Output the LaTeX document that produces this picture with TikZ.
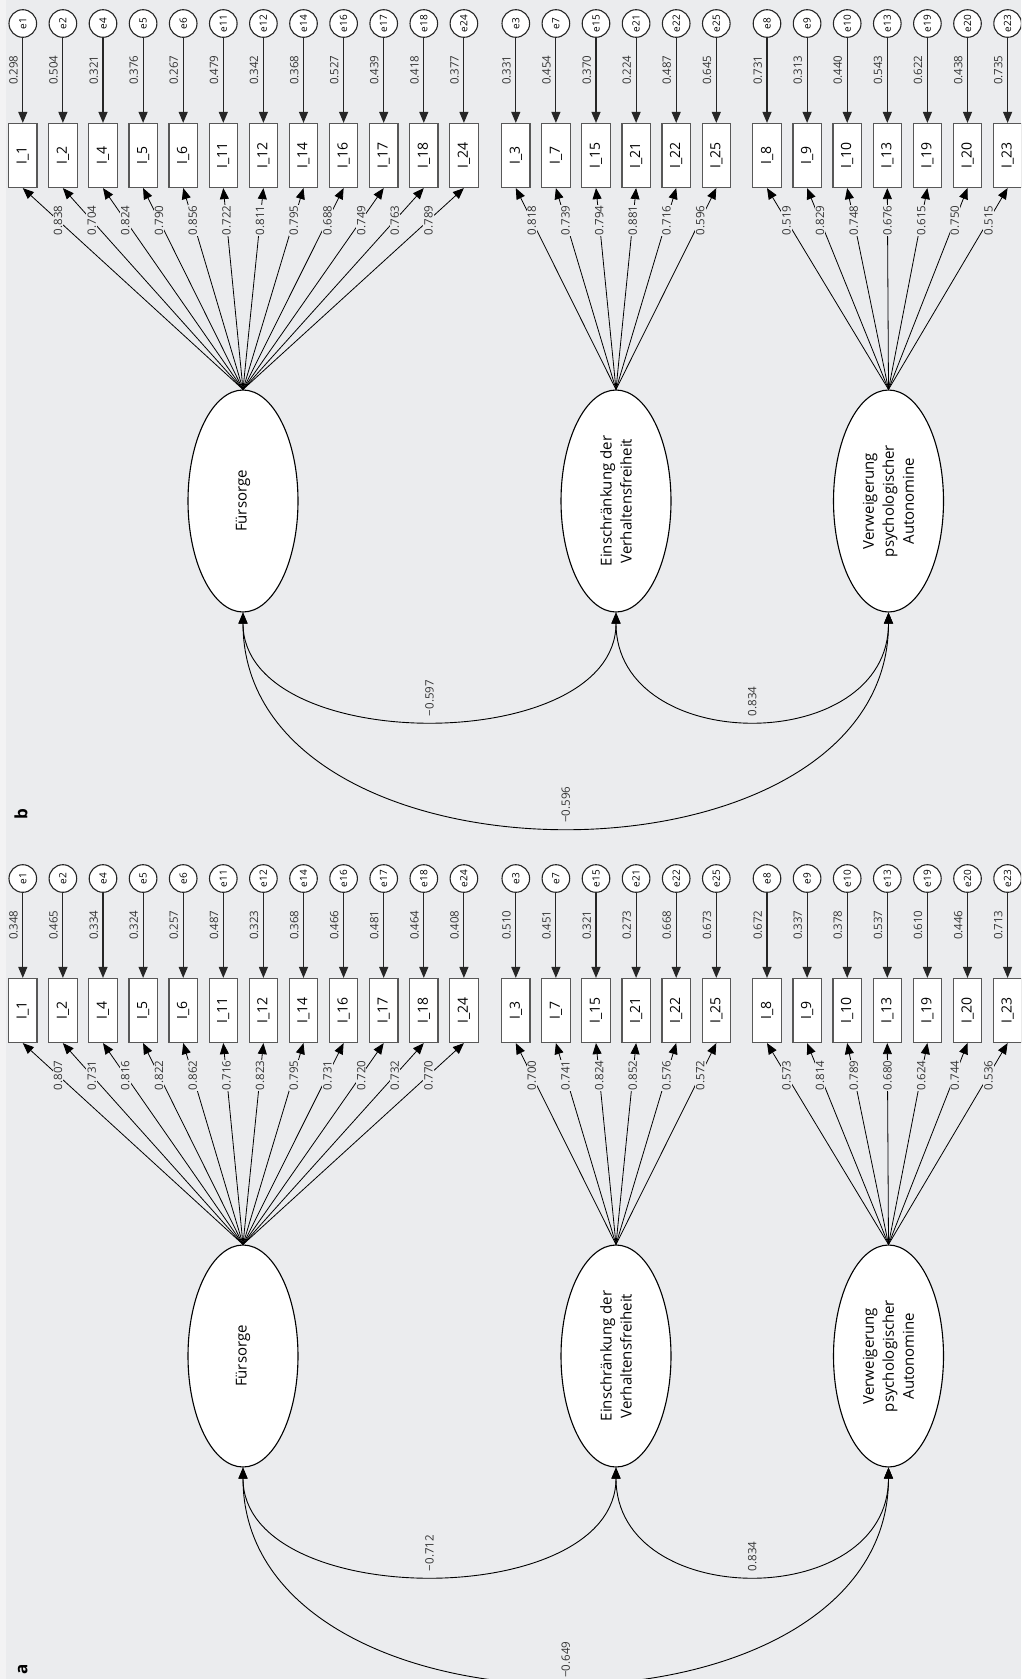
\documentclass[tikz,border=0pt]{standalone}
\usepackage{fontspec}
\setmainfont{Open Sans}
\usetikzlibrary{arrows.meta,shapes.geometric}
\definecolor{bgcol}{HTML}{EBECEE}
\definecolor{stripcol}{HTML}{F3F3F4}
\definecolor{boxline}{HTML}{585858}
\definecolor{numcol}{HTML}{333333}

\tikzset{
  obs/.style={rectangle, draw=boxline, line width=1.2pt, fill=white, rotate=90,
    minimum width=64pt, minimum height=28.4pt, inner sep=0pt,
    font=\fontsize{14}{16}\selectfont},
  err/.style={circle, draw=black!85, line width=1.1pt, fill=white, rotate=90,
    minimum size=27.6pt, inner sep=0pt, font=\fontsize{10}{12}\selectfont},
  lat/.style={ellipse, draw=black, line width=1.1pt, fill=white, rotate=90,
    minimum width=222pt, minimum height=110pt, inner sep=0pt, align=center,
    font=\fontsize{15}{20}\selectfont},
  num/.style={rotate=90, text=numcol, font=\fontsize{11.5}{13}\selectfont},
  tip/.style={-{Triangle[length=11pt,width=9pt]}},
  errarrow/.style={tip, draw=black!85, line width=1.1pt},
  load/.style={tip, draw=black, line width=0.8pt},
  cov/.style={{Triangle[length=11pt,width=9pt]}-{Triangle[length=11pt,width=9pt]},
    draw=black, line width=0.9pt},
  lbl/.style={num, pos=0.84, fill=bgcol, inner sep=1pt},
  evlbl/.style={num, pos=0.38, anchor=south, inner sep=4.5pt},
  covlbl/.style={num, pos=0.5, anchor=west, inner sep=4pt},
  panellbl/.style={rotate=90, anchor=base west, inner sep=0pt,
    font=\fontsize{17}{19}\selectfont\bfseries}
}

% One measurement model: three factors, their indicators with error terms,
% and the factor covariances.
% #1 name prefix, #2 vertical offset, #3-#5 item/error/loading lists,
% #6-#8 covariances F-E, E-V, F-V
\newcommand\sempanel[8]{%
  \node[lat] (#1F) at (243, #2+501) {Fürsorge};
  \node[lat] (#1E) at (616, #2+501) {Einschränkung der\\Verhaltensfreiheit};
  \node[lat] (#1V) at (888.5, #2+501) {Verweigerung\\psychologischer\\Autonomine};
  \foreach[count=\i from 0] \n/\ev/\ld in {#3} {
    \node[err] (#1e\n) at ({22.8+40.1*\i}, {#2+23.5}) {e\n};
    \node[obs] (#1I\n) at ({22.8+40.1*\i}, {#2+155.5}) {I\_\n};
    \draw[errarrow] (#1e\n.west) -- (#1I\n.east) node[evlbl] {\ev};
    \draw[load] (#1F.east) -- (#1I\n.west) node[lbl] {\ld};
  }
  \foreach[count=\i from 0] \n/\ev/\ld in {#4} {
    \node[err] (#1e\n) at ({515.8+40.1*\i}, {#2+23.5}) {e\n};
    \node[obs] (#1I\n) at ({515.8+40.1*\i}, {#2+155.5}) {I\_\n};
    \draw[errarrow] (#1e\n.west) -- (#1I\n.east) node[evlbl] {\ev};
    \draw[load] (#1E.east) -- (#1I\n.west) node[lbl] {\ld};
  }
  \foreach[count=\i from 0] \n/\ev/\ld in {#5} {
    \node[err] (#1e\n) at ({767+40.1*\i}, {#2+23.5}) {e\n};
    \node[obs] (#1I\n) at ({767+40.1*\i}, {#2+155.5}) {I\_\n};
    \draw[errarrow] (#1e\n.west) -- (#1I\n.east) node[evlbl] {\ev};
    \draw[load] (#1V.east) -- (#1I\n.west) node[lbl] {\ld};
  }
  \draw[cov] (#1F.west) .. controls +(0,144) and +(0,144) .. (#1E.west)
    node[covlbl] {#6};
  \draw[cov] (#1E.west) .. controls +(0,144) and +(0,144) .. (#1V.west)
    node[covlbl] {#7};
  \draw[cov] (#1F.west) .. controls +(0,286) and +(0,286) .. (#1V.west)
    node[covlbl] {#8};
}

\begin{document}
\begin{tikzpicture}[x=1pt, y=-1pt]
  \useasboundingbox (0,0) rectangle (1021,1679);
  \fill[bgcol] (0,0) rectangle (1021,1679);
  \fill[stripcol] (0,0) rectangle (6,1679);
  \clip (0,0) rectangle (1021,1679);

  % model b (top)
  \sempanel{b}{0}
    {1/0.298/0.838, 2/0.504/0.704, 4/0.321/0.824, 5/0.376/0.790,
     6/0.267/0.856, 11/0.479/0.722, 12/0.342/0.811, 14/0.368/0.795,
     16/0.527/0.688, 17/0.439/0.749, 18/0.418/0.763, 24/0.377/0.789}
    {3/0.331/0.818, 7/0.454/0.739, 15/0.370/0.794, 21/0.224/0.881,
     22/0.487/0.716, 25/0.645/0.596}
    {8/0.731/0.519, 9/0.313/0.829, 10/0.440/0.748, 13/0.543/0.676,
     19/0.622/0.615, 20/0.438/0.750, 23/0.735/0.515}
    {−0.597}{0.834}{−0.596}
  \node[panellbl] (labb) at (27.3, 820) {b};

  % model a (bottom)
  \sempanel{a}{855}
    {1/0.348/0.807, 2/0.465/0.731, 4/0.334/0.816, 5/0.324/0.822,
     6/0.257/0.862, 11/0.487/0.716, 12/0.323/0.823, 14/0.368/0.795,
     16/0.466/0.731, 17/0.481/0.720, 18/0.464/0.732, 24/0.408/0.770}
    {3/0.510/0.700, 7/0.451/0.741, 15/0.321/0.824, 21/0.273/0.852,
     22/0.668/0.576, 25/0.673/0.572}
    {8/0.672/0.573, 9/0.337/0.814, 10/0.378/0.789, 13/0.537/0.680,
     19/0.610/0.624, 20/0.446/0.744, 23/0.713/0.536}
    {−0.712}{0.834}{−0.649}
  \node[panellbl] (laba) at (27.3, 1675) {a};
\end{tikzpicture}
\end{document}
